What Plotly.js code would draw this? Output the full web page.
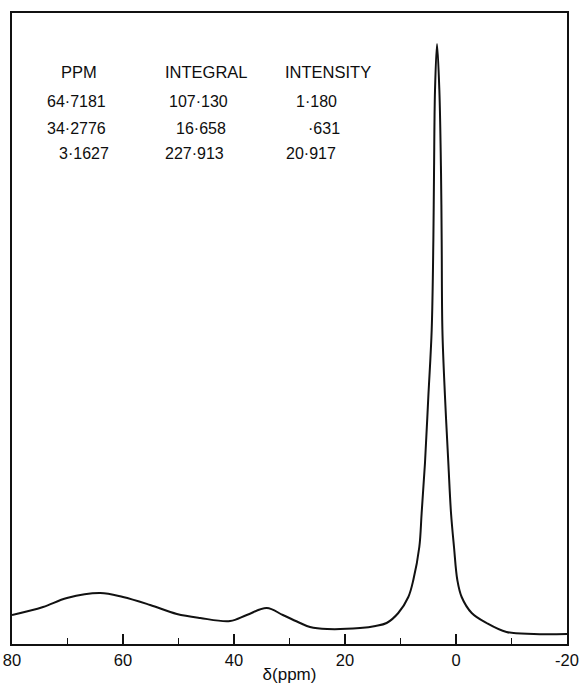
<!DOCTYPE html>
<html>
<head>
<meta charset="utf-8">
<script src="https://cdn.plot.ly/plotly-3.0.1.min.js"></script>
<style>
  html, body { margin: 0; padding: 0; background: #fff; }
  #chart { width: 579px; height: 684px; }
</style>
</head>
<body>
<div id="chart"></div>
<script>
// Chemical shift (ppm) and signal intensity (arbitrary units)
const shiftPpm = [80, 74.4, 70.1, 64.1, 60.0, 55.1, 50.3, 46.1, 40.7, 37.7, 34.1, 31.2, 28.1, 26.3, 23.2, 17.3, 14.5, 12.5, 10.4, 8.59, 7.69, 6.61, 6.19, 5.59, 4.99, 4.38, 4.08, 3.96, 3.78, 3.42, 3.0, 2.70, 2.58, 2.45, 1.98, 1.38, 0.90, 0.36, -0.24, -1.02, -2.83, -5.5, -9.1, -14, -20];
const intensity = [29, 37, 46, 51, 47, 39, 30, 26, 23, 29, 36, 29, 21, 17, 15, 16, 18, 21, 31, 47, 64, 97, 131, 181, 247, 314, 404, 471, 554, 600, 554, 471, 404, 314, 247, 181, 131, 97, 64, 47, 31, 21, 12, 10, 10];

// Peak table
const tableHeaders = ["PPM", "INTEGRAL", "INTENSITY"];
const ppmLabels = ["64·7181", "34·2776", "3·1627"];
const integralLabels = ["107·130", "16·658", "227·913"];
const intensityLabels = ["1·180", "·631", "20·917"];

const xTickVals = [80, 60, 40, 20, 0, -20];
const xTickText = ["80", "60", "40", "20", "0", "-20"];

const fontFam = "Liberation Sans, Arial, sans-serif";
const txtColor = "#0e0e0e";

// layout helpers for the table (paper coords)
const headerX = [0.0847, 0.272, 0.488];
const headerY = 0.9065;
const rowY = [0.859, 0.8177, 0.778];
const colX = [
  [0.0595, 0.0595, 0.081],
  [0.279, 0.292, 0.272],
  [0.508, 0.530, 0.490]
];
const cols = [ppmLabels, integralLabels, intensityLabels];

const annotations = [];
tableHeaders.forEach((h, i) => {
  annotations.push({
    text: h, xref: "paper", yref: "paper", x: headerX[i], y: headerY,
    xanchor: "left", yanchor: "middle", showarrow: false,
    font: {family: fontFam, size: 16.5, color: txtColor}
  });
});
cols.forEach((col, c) => {
  col.forEach((t, r) => {
    annotations.push({
      text: t, xref: "paper", yref: "paper", x: colX[c][r], y: rowY[r],
      xanchor: "left", yanchor: "middle", showarrow: false,
      font: {family: fontFam, size: 16, color: txtColor}
    });
  });
});

const trace = {
  x: shiftPpm,
  y: intensity,
  type: "scatter",
  mode: "lines",
  line: {color: "#111", width: 2, shape: "spline", smoothing: 1},
  hoverinfo: "skip"
};

const layout = {
  width: 579,
  height: 684,
  margin: {l: 12, r: 12, t: 13, b: 40},
  paper_bgcolor: "#fff",
  plot_bgcolor: "#fff",
  showlegend: false,
  xaxis: {
    range: [80, -20],
    tickmode: "array",
    tickvals: xTickVals,
    ticktext: xTickText,
    ticks: "inside",
    ticklen: 10,
    tickwidth: 1.5,
    tickcolor: "#111",
    minor: {ticks: "inside", dtick: 10, tick0: 0, ticklen: 6, tickwidth: 1.5, tickcolor: "#111", showgrid: false},
    showgrid: false,
    zeroline: false,
    showline: true,
    linecolor: "#111",
    linewidth: 2,
    mirror: true,
    tickfont: {family: fontFam, size: 16.5, color: txtColor},
    title: {text: "δ(ppm)", font: {family: fontFam, size: 17, color: txtColor}, standoff: 1}
  },
  yaxis: {
    range: [0, 631],
    showticklabels: false,
    ticks: "",
    showgrid: false,
    zeroline: false,
    showline: true,
    linecolor: "#111",
    linewidth: 2,
    mirror: true
  },
  annotations: annotations
};

Plotly.newPlot("chart", [trace], layout, {displayModeBar: false, staticPlot: true});
</script>
</body>
</html>
